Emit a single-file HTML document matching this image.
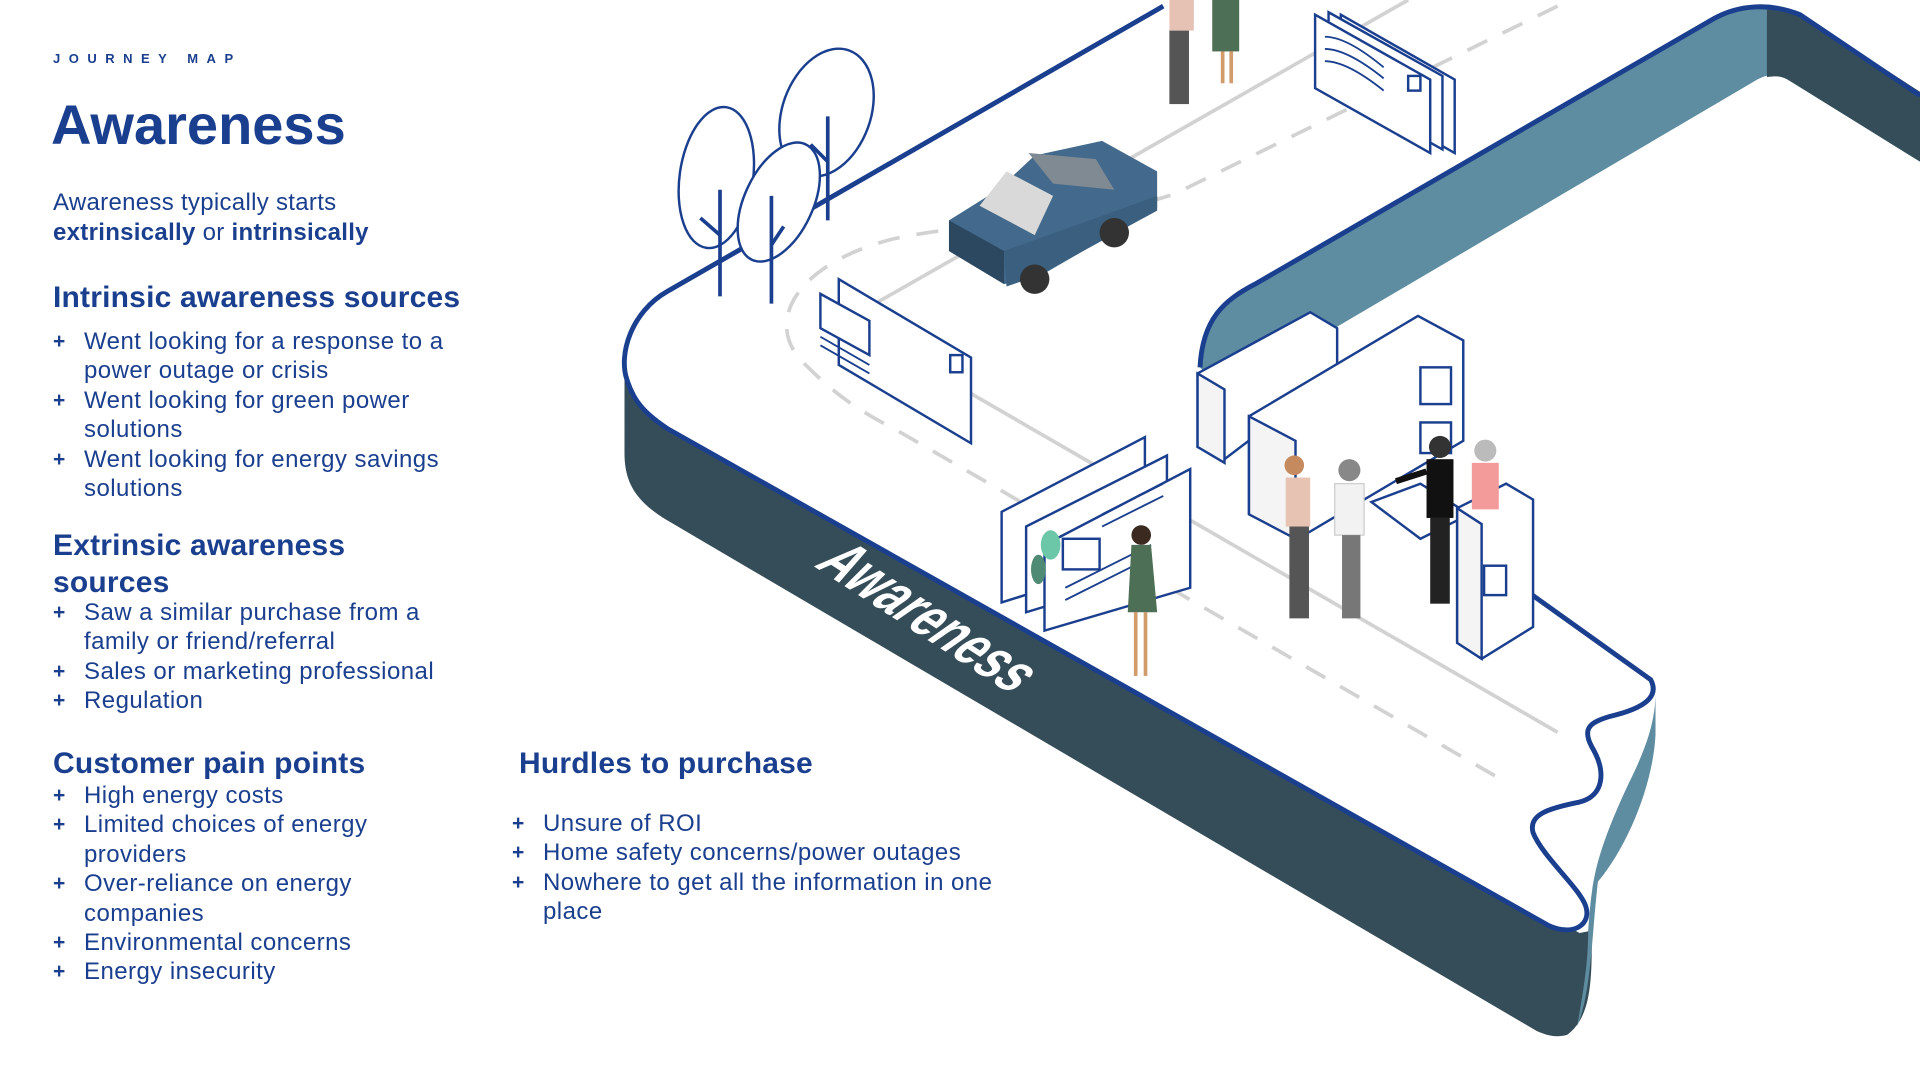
<!DOCTYPE html>
<html><head><meta charset="utf-8"><style>
html,body{margin:0;padding:0;background:#fff;}
body{width:1920px;height:1080px;position:relative;overflow:hidden;font-family:"Liberation Sans",sans-serif;color:#1b3f8f;}
svg{position:absolute;left:0;top:0;}
.t{position:absolute;white-space:nowrap;}
.jm{left:53px;top:51px;font-size:13px;font-weight:bold;letter-spacing:8.5px;}
.h1{left:51px;top:92px;font-size:56px;font-weight:bold;letter-spacing:0px;}
.p{left:53px;top:188px;font-size:24px;line-height:30px;letter-spacing:0.3px;}
.h2{font-size:30px;font-weight:bold;line-height:37px;letter-spacing:0.2px;}
ul{position:absolute;margin:0;padding:0;list-style:none;font-size:24px;line-height:29.4px;letter-spacing:0.45px;}
li{position:relative;padding-left:31px;}
li:before{content:"+";position:absolute;left:0;top:0;font-weight:bold;font-size:21px;}
</style></head><body>
<svg width="1920" height="1080" viewBox="0 0 1568 882" preserveAspectRatio="none">
<path d="M510,295 C510,320 520,335 545,350 L1290,762 L1300,760 C1300,800 1300,830 1280,845 C1270,848 1262,845 1255,842 L545,425 C520,410 510,395 510,370 Z" fill="#354d58"/>
<path d="M1297,760 C1300,720 1302,700 1330,640 C1350,600 1352,580 1352,565 L1352,600 C1350,640 1330,690 1305,720 C1300,760 1300,810 1288,838 C1295,800 1297,780 1297,760 Z" fill="#5e8ca0"/>
<path d="M950,5 L545,238 C515,255 505,290 512,310 C518,330 530,340 545,350 L1265,756 C1285,765 1300,755 1295,740 C1290,725 1260,700 1252,680 C1248,665 1265,660 1290,655 C1310,650 1312,630 1300,610 C1292,595 1298,590 1315,585 C1345,578 1355,568 1348,555 L1250,485 L1000,320 L980,300 L1000,240 L1150,0 Z" fill="#fff"/>
<path d="M950,5 L545,238 C515,255 505,290 512,310 C518,330 530,340 545,350 L1265,756 C1285,765 1300,755 1295,740 C1290,725 1260,700 1252,680 C1248,665 1265,660 1290,655 C1310,650 1312,630 1300,610 C1292,595 1298,590 1315,585 C1345,578 1355,568 1348,555 L1250,485" fill="none" stroke="#1b3f8f" stroke-width="4"/>
<path d="M980,300 C982,260 1000,245 1025,232 L1400,15 C1420,4 1445,2 1470,12 L1568,75 L1568,132 L1460,65 C1450,60 1445,60 1435,65 L1090,268 L1000,320 Z" fill="#5e8ca0"/>
<path d="M1443,8 C1455,6 1465,9 1475,15 L1568,75 L1568,132 L1460,65 C1455,62 1450,62 1443,63 Z" fill="#354d58"/>
<path d="M980,300 C982,260 1000,245 1025,232 L1400,15 C1420,4 1445,2 1470,12 L1568,78" fill="none" stroke="#1b3f8f" stroke-width="4"/>
<polyline points="1150,0 690,262 1272,598" fill="none" stroke="#d2d2d2" stroke-width="3"/>
<path d="M1272,5 L960,158 C900,180 800,180 730,195 C650,215 620,265 660,300 C680,320 700,335 730,350 L1232,640" fill="none" stroke="#d2d2d2" stroke-width="3" stroke-dasharray="18,14"/>
<g fill="#fff" stroke="#1b3f8f" stroke-width="2">
<ellipse cx="675" cy="92" rx="36" ry="54" transform="rotate(20 675 92)"/>
<ellipse cx="585" cy="145" rx="30" ry="58" transform="rotate(8 585 145)"/>
<ellipse cx="636" cy="165" rx="28" ry="52" transform="rotate(25 636 165)"/>
</g>
<g stroke="#1b3f8f" stroke-width="3" fill="none">
<line x1="676" y1="95" x2="676" y2="180"/><line x1="662" y1="118" x2="676" y2="132"/>
<line x1="588" y1="155" x2="588" y2="242"/><line x1="572" y1="178" x2="588" y2="192"/>
<line x1="630" y1="160" x2="630" y2="248"/><line x1="630" y1="200" x2="640" y2="185"/>
</g>
<polygon points="775,180 815,155 845,127 900,115 945,140 945,170 850,225 820,232 775,205" fill="#436a8c"/>
<polygon points="775,180 820,205 820,232 775,205" fill="#2c4860"/>
<polygon points="820,205 945,160 945,172 848,225 822,234" fill="#3b5f7f"/>
<polygon points="800,168 822,140 860,160 845,192" fill="#d9d9d9"/>
<polygon points="840,125 895,130 910,155 860,150" fill="#7f8a93"/>
<circle cx="845" cy="228" r="12" fill="#333"/><circle cx="910" cy="190" r="12" fill="#333"/>
<g fill="#fff" stroke="#1b3f8f" stroke-width="2">
<polygon points="1095,12 1188,65 1188,125 1095,72"/>
<polygon points="1085,10 1178,62 1178,122 1085,70"/>
<polygon points="1074,12 1168,65 1168,125 1074,72"/>
<polygon points="685,228 793,292 793,362 685,298"/>
<polygon points="670,240 710,262 710,290 670,268"/>
<rect x="1150" y="62" width="10" height="12"/><rect x="776" y="290" width="10" height="14"/>
</g>
<g stroke="#1b3f8f" stroke-width="1.5" fill="none"><path d="M1082,30 Q1100,30 1130,55 M1082,40 Q1100,40 1130,64 M1082,50 Q1100,50 1130,74"/><path d="M670,275 L710,298 M670,282 L710,305"/></g>
<g fill="#fff" stroke="#1b3f8f" stroke-width="2">
<polygon points="978,305 1070,255 1092,268 1092,305 1000,375 978,365"/>
<polygon points="978,305 1000,318 1000,378 978,365" fill="#f4f4f4"/>
<polygon points="1020,340 1158,258 1195,278 1195,360 1060,440 1020,420"/>
<polygon points="1020,340 1058,360 1058,440 1020,420" fill="#f4f4f4"/>
<rect x="1160" y="300" width="25" height="30"/><rect x="1160" y="345" width="25" height="25"/>
<polygon points="1120,410 1160,395 1200,420 1160,440"/>
<polygon points="1190,415 1230,395 1252,408 1252,512 1210,538 1190,525"/>
<polygon points="1190,415 1210,428 1210,538 1190,525" fill="#f4f4f4"/>
<rect x="1212" y="462" width="18" height="24"/>
</g>
<g fill="#fff" stroke="#1b3f8f" stroke-width="2">
<polygon points="818,418 935,357 935,455 818,492"/>
<polygon points="838,430 953,372 953,465 838,500"/>
<polygon points="853,445 972,383 972,480 853,515"/>
<rect x="868" y="440" width="30" height="25"/>
</g>
<g stroke="#1b3f8f" stroke-width="1.5"><line x1="900" y1="420" x2="950" y2="395"/><line x1="900" y1="430" x2="950" y2="405"/><line x1="870" y1="480" x2="940" y2="445"/><line x1="870" y1="490" x2="940" y2="455"/></g>
<ellipse cx="858" cy="445" rx="8" ry="12" fill="#6cc7a8"/><ellipse cx="848" cy="465" rx="6" ry="12" fill="#4e8a74"/>
<g>
<circle cx="965" cy="3" r="8" fill="#c58a5e"/><rect x="955" y="0" width="20" height="25" fill="#e6c2b5"/><rect x="955" y="25" width="16" height="60" fill="#555"/>
<rect x="990" y="0" width="22" height="42" fill="#4c6f55"/><rect x="997" y="42" width="3" height="26" fill="#d19b6b"/><rect x="1004" y="42" width="3" height="26" fill="#d19b6b"/>
<circle cx="932" cy="437" r="8" fill="#3b2a20"/><path d="M924,445 h16 l5,55 h-24 Z" fill="#4c6f55"/><rect x="926" y="500" width="3" height="52" fill="#d19b6b"/><rect x="934" y="500" width="3" height="52" fill="#d19b6b"/>
<circle cx="1057" cy="380" r="8" fill="#c58a5e"/><rect x="1050" y="390" width="20" height="40" fill="#e7c3b3"/><rect x="1053" y="430" width="16" height="75" fill="#555"/>
<circle cx="1102" cy="384" r="9" fill="#888"/><rect x="1090" y="395" width="24" height="42" fill="#f2f2f2" stroke="#ccc"/><rect x="1096" y="437" width="15" height="68" fill="#777"/>
<circle cx="1176" cy="365" r="9" fill="#333"/><rect x="1165" y="375" width="22" height="48" fill="#111"/><rect x="1168" y="423" width="16" height="70" fill="#222"/><line x1="1165" y1="385" x2="1140" y2="393" stroke="#111" stroke-width="5"/>
<circle cx="1213" cy="368" r="9" fill="#bbb"/><rect x="1202" y="378" width="22" height="38" fill="#f39a9a"/>
</g>
<text x="0" y="0" transform="translate(664,462) rotate(33) skewX(-22)" fill="#fff" font-family="Liberation Sans, sans-serif" font-weight="bold" font-size="50" textLength="192" lengthAdjust="spacingAndGlyphs">Awareness</text>
</svg>

<div class="t jm">JOURNEY MAP</div>
<div class="t h1">Awareness</div>
<div class="t p">Awareness typically starts<br><b>extrinsically</b> or <b>intrinsically</b></div>
<div class="t h2" style="left:53px;top:279px;">Intrinsic awareness sources</div>
<ul style="left:53px;top:327px;">
<li>Went looking for a response to a<br>power outage or crisis</li>
<li>Went looking for green power<br>solutions</li>
<li>Went looking for energy savings<br>solutions</li>
</ul>
<div class="t h2" style="left:53px;top:527px;">Extrinsic awareness<br>sources</div>
<ul style="left:53px;top:598px;">
<li>Saw a similar purchase from a<br>family or friend/referral</li>
<li>Sales or marketing professional</li>
<li>Regulation</li>
</ul>
<div class="t h2" style="left:53px;top:745px;">Customer pain points</div>
<ul style="left:53px;top:781px;">
<li>High energy costs</li>
<li>Limited choices of energy<br>providers</li>
<li>Over-reliance on energy<br>companies</li>
<li>Environmental concerns</li>
<li>Energy insecurity</li>
</ul>
<div class="t h2" style="left:519px;top:745px;">Hurdles to purchase</div>
<ul style="left:512px;top:809px;">
<li>Unsure of ROI</li>
<li>Home safety concerns/power outages</li>
<li>Nowhere to get all the information in one<br>place</li>
</ul>
</body></html>
